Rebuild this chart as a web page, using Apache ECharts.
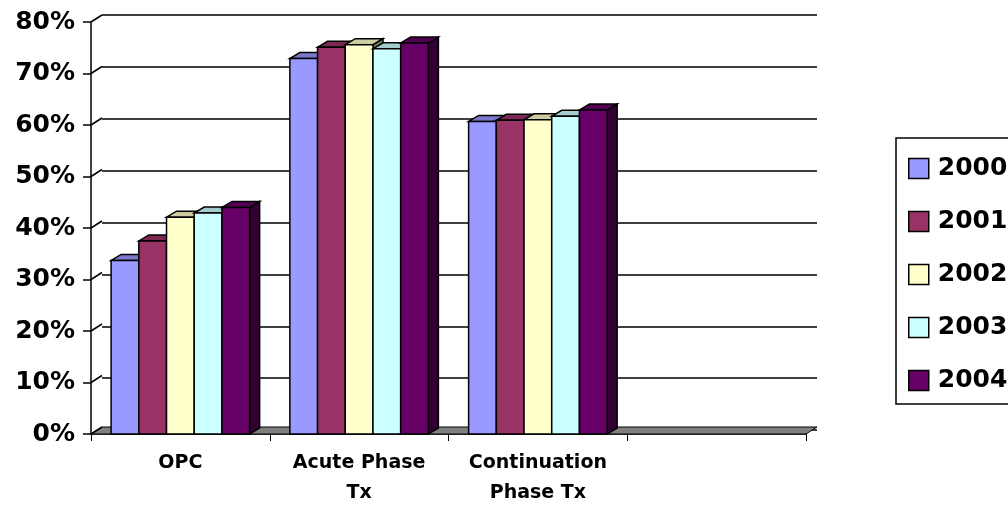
<!DOCTYPE html>
<html>
<head>
<meta charset="utf-8">
<script src="https://cdn.jsdelivr.net/npm/echarts@6/dist/echarts.min.js"></script>
<style>html,body{margin:0;padding:0;background:#fff}#c{width:1008px;height:508px}</style>
</head>
<body>
<div id="c"></div>
<script>
const categories = ['OPC', 'Acute Phase\nTx', 'Continuation\nPhase Tx', ''];
const years = ['2000', '2001', '2002', '2003', '2004'];
const v2000 = [33.7, 72.9, 60.7];
const v2001 = [37.5, 75.1, 60.9];
const v2002 = [42.1, 75.6, 61.0];
const v2003 = [42.9, 74.8, 61.7];
const v2004 = [44.0, 75.9, 62.9];
const yTicks = [0, 10, 20, 30, 40, 50, 60, 70, 80];

const seriesValues = [v2000, v2001, v2002, v2003, v2004];
const colors = ['#9999FF', '#993366', '#FFFFCC', '#CCFFFF', '#660066'];
const FONT = 'DejaVu Sans';
const DX = 11, DY = -7;      // wall / floor depth
const BDX = 10, BDY = -6;    // bar depth

function shade(hex, f) {
  const n = parseInt(hex.slice(1), 16);
  const r = Math.round(((n >> 16) & 255) * f), g = Math.round(((n >> 8) & 255) * f), b = Math.round((n & 255) * f);
  return 'rgb(' + r + ',' + g + ',' + b + ')';
}

function barRenderer(i) {
  return function (params, api) {
    const idx = api.value(0), v = api.value(1);
    const top = api.coord([idx, v]);
    const base = api.coord([idx, 0]);
    const slot = api.size([1, 0])[0];
    const bw = slot * 0.155;
    const x0 = top[0] - 2.5 * bw + i * bw, x1 = x0 + bw;
    const yt = top[1], yb = base[1];
    const c = colors[i];
    const st = { stroke: '#000', lineWidth: 1.5, lineJoin: 'miter' };
    return {
      type: 'group',
      children: [
        { type: 'polygon', shape: { points: [[x1, yt], [x1 + BDX, yt + BDY], [x1 + BDX, yb + BDY], [x1, yb]] }, style: Object.assign({ fill: shade(c, 0.5) }, st) },
        { type: 'polygon', shape: { points: [[x0, yt], [x1, yt], [x1 + BDX, yt + BDY], [x0 + BDX, yt + BDY]] }, style: Object.assign({ fill: shade(c, 0.8) }, st) },
        { type: 'rect', shape: { x: x0, y: yt, width: bw, height: yb - yt }, style: Object.assign({ fill: c }, st) }
      ]
    };
  };
}

function frameRenderer(params, api) {
  const v = api.value(1);
  const cs = params.coordSys;
  const p = api.coord([0, v]);
  const xl = cs.x, xr = cs.x + cs.width, y = p[1];
  const children = [
    { type: 'line', shape: { x1: xl, y1: y, x2: xl + DX, y2: y + DY }, style: { stroke: '#000', lineWidth: 1.5 } }
  ];
  if (v === 0) {
    children.unshift({
      type: 'polygon',
      shape: { points: [[xl, y], [xr, y], [xr + DX, y + DY], [xl + DX, y + DY]] },
      style: { fill: '#808080', stroke: '#000', lineWidth: 1 }
    });
  }
  return { type: 'group', children: children };
}

const series = [
  {
    name: 'frame', type: 'custom', xAxisIndex: 0, yAxisIndex: 0, z: 1,
    renderItem: frameRenderer, silent: true,
    data: yTicks.map(v => [0, v])
  }
];
years.forEach((y, i) => {
  series.push({
    name: y, type: 'custom', xAxisIndex: 0, yAxisIndex: 0, z: 3,
    itemStyle: { color: colors[i], borderColor: '#000', borderWidth: 1 },
    renderItem: barRenderer(i),
    data: seriesValues[i].map((v, k) => [k, v])
  });
});

const chart = echarts.init(document.getElementById('c'), null, { renderer: 'canvas' });
chart.setOption({
  animation: false,
  backgroundColor: '#fff',
  grid: [
    { left: 91, right: 202, top: 22, bottom: 71 },
    { left: 91 + DX, right: 202 - DX, top: 22 + DY, bottom: 71 - DY }
  ],
  xAxis: [
    {
      type: 'category', gridIndex: 0, data: categories, boundaryGap: true,
      axisLine: { show: true, lineStyle: { color: '#000', width: 1.5 } },
      axisTick: { show: true, interval: 0, length: 7, lineStyle: { color: '#000' } },
      axisLabel: { interval: 0, margin: 14, color: '#000', fontFamily: FONT, fontWeight: 'bold', fontSize: 19, lineHeight: 30 },
      splitLine: { show: false }
    },
    { type: 'value', gridIndex: 1, show: false }
  ],
  yAxis: [
    {
      type: 'value', gridIndex: 0, min: 0, max: 80, interval: 10,
      axisLine: { show: true, lineStyle: { color: '#000', width: 1.5 } },
      axisTick: { show: true, length: 8, lineStyle: { color: '#000', width: 1.5 } },
      axisLabel: { formatter: '{value}%', margin: 16, color: '#000', fontFamily: FONT, fontWeight: 'bold', fontSize: 25 },
      splitLine: { show: false }
    },
    {
      type: 'value', gridIndex: 1, min: 0, max: 80, interval: 10,
      axisLine: { show: false }, axisTick: { show: false }, axisLabel: { show: false },
      splitLine: { show: true, lineStyle: { color: '#000', width: 1.5 } }
    }
  ],
  legend: {
    data: years, orient: 'vertical', left: 896, top: 138,
    padding: [18, 14, 11, 12], itemGap: 28, itemWidth: 20, itemHeight: 20,
    borderColor: '#000', borderWidth: 1.5, icon: 'rect',
    itemStyle: { borderColor: '#000', borderWidth: 1.5 },
    textStyle: { color: '#000', fontFamily: FONT, fontWeight: 'bold', fontSize: 25, lineHeight: 20, padding: [0, 0, 0, 4] }
  },
  series: series
});
</script>
</body>
</html>
